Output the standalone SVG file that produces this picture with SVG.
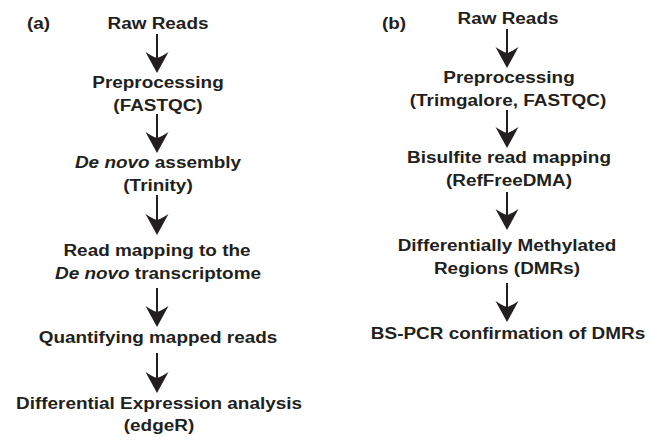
<svg xmlns="http://www.w3.org/2000/svg" width="651" height="444" viewBox="0 0 651 444">
<style>
text{font-family:"Liberation Sans",Arial,sans-serif;font-weight:bold;font-size:17.2px;fill:#231f20;text-anchor:middle}
.lbl{text-anchor:start}
.it{font-style:italic}
.sh{stroke:#231f20;stroke-width:2;fill:none}
.hd{fill:#231f20}
</style>
<defs>
<path id="ah" d="M0,0 L-11.5,-21 Q-4,-16 0,-15 Q4,-16 11.5,-21 Z"/>
</defs>
<rect width="651" height="444" fill="#fff"/>
<g id="label-a"><text class="lbl" transform="translate(27,29) scale(1.1,1)">(a)</text></g>
<g id="label-b"><text class="lbl" transform="translate(382,29) scale(1.1,1)">(b)</text></g>

<g id="a1"><text transform="translate(158,29) scale(1.1,1)">Raw Reads</text></g>
<g id="a2"><text transform="translate(158,88) scale(1.1,1)">Preprocessing</text><text transform="translate(158,111) scale(1.1,1)">(FASTQC)</text></g>
<g id="a3"><text transform="translate(158,168) scale(1.1,1)"><tspan class="it">De novo</tspan> assembly</text><text transform="translate(158,191) scale(1.1,1)">(Trinity)</text></g>
<g id="a4"><text transform="translate(157,256) scale(1.1,1)">Read mapping to the</text><text transform="translate(158,279) scale(1.1,1)"><tspan class="it">De novo</tspan> transcriptome</text></g>
<g id="a5"><text transform="translate(158,343) scale(1.1,1)">Quantifying mapped reads</text></g>
<g id="a6"><text transform="translate(159,409) scale(1.1,1)">Differential Expression analysis</text><text transform="translate(159,431) scale(1.1,1)">(edgeR)</text></g>

<g id="b1"><text transform="translate(508,24) scale(1.1,1)">Raw Reads</text></g>
<g id="b2"><text transform="translate(509,83) scale(1.1,1)">Preprocessing</text><text transform="translate(508,106) scale(1.1,1)">(Trimgalore, FASTQC)</text></g>
<g id="b3"><text transform="translate(509,163) scale(1.1,1)">Bisulfite read mapping</text><text transform="translate(509,186) scale(1.1,1)">(RefFreeDMA)</text></g>
<g id="b4"><text transform="translate(507,251) scale(1.1,1)">Differentially Methylated</text><text transform="translate(507,274) scale(1.1,1)">Regions (DMRs)</text></g>
<g id="b5"><text transform="translate(508,339) scale(1.1,1)">BS-PCR confirmation of DMRs</text></g>

<g id="connectors">
<line class="sh" x1="157" y1="34" x2="157" y2="60"/><use href="#ah" class="hd" x="157" y="73"/>
<line class="sh" x1="157" y1="114" x2="157" y2="140"/><use href="#ah" class="hd" x="157" y="153"/>
<line class="sh" x1="157" y1="195" x2="157" y2="222"/><use href="#ah" class="hd" x="157" y="235"/>
<line class="sh" x1="157" y1="288" x2="157" y2="314"/><use href="#ah" class="hd" x="157" y="327"/>
<line class="sh" x1="157" y1="353" x2="157" y2="380"/><use href="#ah" class="hd" x="157" y="393"/>
<line class="sh" x1="507" y1="29" x2="507" y2="55"/><use href="#ah" class="hd" x="507" y="68"/>
<line class="sh" x1="507" y1="110" x2="507" y2="135"/><use href="#ah" class="hd" x="507" y="148"/>
<line class="sh" x1="507" y1="192" x2="507" y2="217"/><use href="#ah" class="hd" x="507" y="230"/>
<line class="sh" x1="507" y1="283" x2="507" y2="309"/><use href="#ah" class="hd" x="507" y="322"/>
</g>
</svg>
